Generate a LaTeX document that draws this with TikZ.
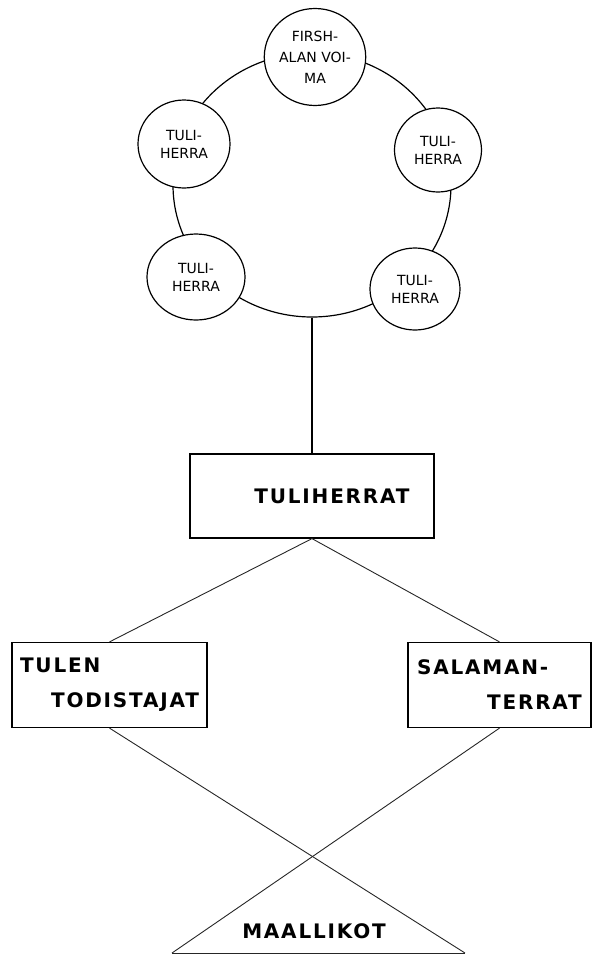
\documentclass[tikz,border=0pt]{standalone}
\usepackage{fontspec}
\setmainfont{DejaVu Sans}
\newfontfamily\rankfont{DejaVu Sans}[LetterSpace=9]
\usetikzlibrary{shapes.geometric}

\begin{document}
\begin{tikzpicture}[x=1pt,y=-1pt,
  ring/.style={draw,ellipse,line width=1.2pt,inner sep=0pt,minimum width=278pt,minimum height=264pt},
  lord/.style={draw,ellipse,fill=white,line width=1.2pt,inner sep=0pt,align=center,font=\fontsize{14}{18}\selectfont},
  rank/.style={draw,rectangle,line width=1.2pt,inner sep=0pt,align=left,font=\rankfont\fontsize{20}{35}\selectfont\bfseries},
  link/.style={line width=0.9pt,black!85}]
\useasboundingbox (0,0) rectangle (597,954);
% --- the ring of fire lords
\node[ring] (ring) at (312,185) {};
\node[lord,minimum width=95pt,minimum height=97pt,font=\fontsize{14}{21}\selectfont] (voima) at (315,57) {FIRSH-\\ALAN VOI-\\MA};
\node[lord,minimum width=92pt,minimum height=88pt] (tl) at (184,144) {TULI-\\HERRA};
\node[lord,minimum width=87pt,minimum height=84pt] (tr) at (438,150) {TULI-\\HERRA};
\node[lord,minimum width=98pt,minimum height=86pt] (bl) at (196,277) {TULI-\\HERRA};
\node[lord,minimum width=90pt,minimum height=82pt] (br) at (415,289) {TULI-\\HERRA};
% --- ranks
\node[rank,minimum width=244pt,minimum height=84pt] (herrat) at (312,496) {\hspace*{40pt}TULIHERRAT};
\node[rank,minimum width=195pt,minimum height=85pt] (todistajat) at (109.5,685) {TULEN\\\hspace*{31pt}TODISTAJAT};
\node[rank,minimum width=183pt,minimum height=85pt] (salaman) at (499.5,685) {SALAMAN-\\\hspace*{70pt}TERRAT};
% --- the masses
\coordinate (baseL) at (172,953);
\coordinate (baseR) at (465,953);
\node[font=\rankfont\fontsize{20}{24}\selectfont\bfseries] (maallikot) at (314,931) {MAALLIKOT};
% --- links
\draw[line width=1.2pt] (ring.south) -- (herrat.north);
\draw[link] (herrat.south) -- (todistajat.north);
\draw[link] (herrat.south) -- (salaman.north);
\draw[link] (todistajat.south) -- (baseR);
\draw[link] (salaman.south) -- (baseL);
\draw[link] (baseL) -- (baseR);
\end{tikzpicture}
\end{document}
